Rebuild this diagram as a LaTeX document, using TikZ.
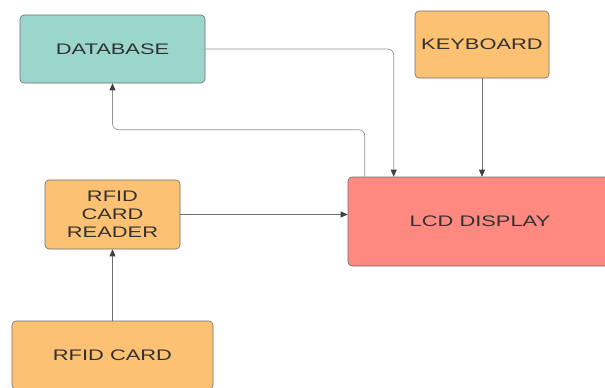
\documentclass[tikz,border=0pt]{standalone}
\usepackage{fontspec}
\setmainfont[FakeStretch=1.43]{Liberation Sans}
\usetikzlibrary{arrows.meta,positioning}
\definecolor{dbteal}{RGB}{154,214,203}
\definecolor{boxorange}{RGB}{253,193,115}
\definecolor{lcdred}{RGB}{253,137,128}
\definecolor{edgegray}{RGB}{110,110,110}
\definecolor{txtgray}{RGB}{50,50,50}

\begin{document}
\begin{tikzpicture}[x=1pt,y=-1pt,
  block/.style={draw=edgegray, line width=0.6pt, rounded corners=4pt, inner sep=0pt,
    align=center, font=\fontsize{15.3}{18}\selectfont, text=txtgray},
  link/.style={draw=edgegray, line width=0.7pt, rounded corners=6pt,
    -{Triangle[length=7pt,width=6pt,color=black!75,fill=black!75]}}]
\useasboundingbox (0,0) rectangle (605,388);
% blocks
\node[block, fill=dbteal, minimum width=185pt, minimum height=68pt] (db) at (112.5,49) {DATABASE};
\node[block, fill=boxorange, minimum width=134pt, minimum height=67pt] (kbd) at (482,44.5) {KEYBOARD};
\node[block, fill=lcdred, minimum width=264pt, minimum height=89pt] (lcd) at (480,221.5) {LCD DISPLAY};
\node[block, fill=boxorange, minimum width=135pt, minimum height=69pt] (reader) at (112.5,214.5) {RFID\\CARD\\READER};
\node[block, fill=boxorange, minimum width=201pt, minimum height=68pt] (card) at (112.5,355) {RFID CARD};
% connectors
\draw[link, draw=edgegray!75] (db.east) -| ([xshift=46pt]lcd.north west);
\draw[link] (kbd) -- (kbd |- lcd.north);
\draw[link, draw=edgegray!75] ([xshift=17pt]lcd.north west) -- ++(0,-47) -| (db.south);
\draw[link] (reader.east) -- (reader.east -| lcd.west);
\draw[link] (card) -- (reader);
\end{tikzpicture}
\end{document}
